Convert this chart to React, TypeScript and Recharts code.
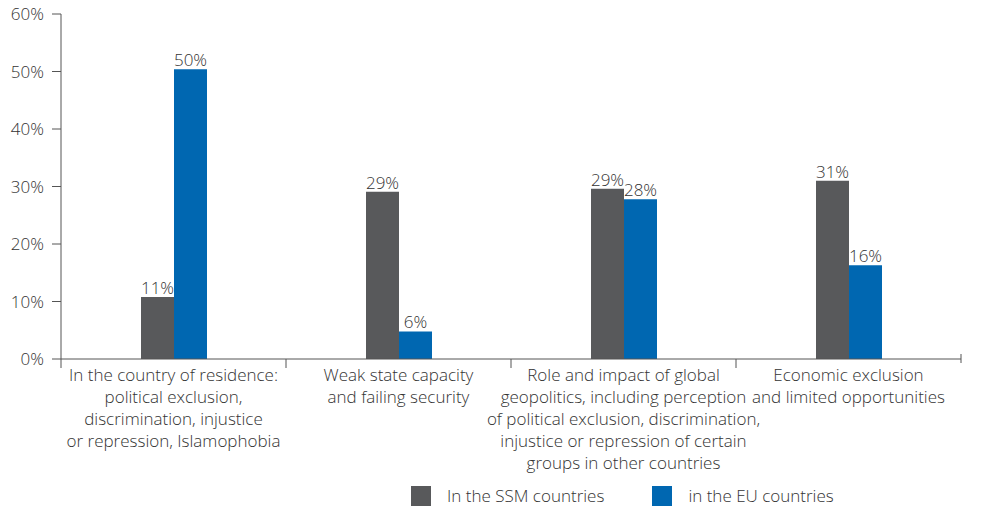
import { BarChart, Bar, XAxis, YAxis, LabelList } from 'recharts';

const categories = [
  'In the country of residence:\npolitical exclusion,\ndiscrimination, injustice\nor repression, Islamophobia',
  'Weak state capacity\nand failing security',
  'Role and impact of global\ngeopolitics, including perception\nof political exclusion, discrimination,\ninjustice or repression of certain\ngroups in other countries',
  'Economic exclusion\nand limited opportunities',
];
const ssmValues = [10.8, 29.1, 29.6, 31];
const euValues = [50.4, 4.8, 27.8, 16.3];
const ssmLabels = ['11%', '29%', '29%', '31%'];
const euLabels = ['50%', '6%', '28%', '16%'];
const yTicks = [0, 10, 20, 30, 40, 50, 60];
const seriesNames = ['In the SSM countries', 'in the EU countries'];

const GRAY = '#58595b';
const BLUE = '#0067b1';
const AXIS = '#555';
const TEXT = '#333';
const FONT = '"Open Sans", Roboto, sans-serif';
const FS = 17;

const W = 981;
const H = 507;
const margin = { top: 14, right: 20, left: 0, bottom: 0 };
const Y_AXIS_W = 61;
const bandW = (W - Y_AXIS_W - margin.right) / categories.length;

const data = categories.map((name, i) => ({
  name,
  ssm: ssmValues[i],
  eu: euValues[i],
  ssmLabel: ssmLabels[i],
  euLabel: euLabels[i],
}));

// tick marks sit at the category borders, not the centres
function CategoryTick(props: any) {
  const { x, y, payload, index } = props;
  const lines: string[] = String(payload.value).split('\n');
  const left = x - bandW / 2;
  const right = x + bandW / 2;
  const last = index === categories.length - 1;
  return (
    <g>
      <line x1={left} x2={left} y1={y} y2={y + 9} stroke={AXIS} />
      {last && <line x1={right} x2={right} y1={y - 5} y2={y + 4} stroke={AXIS} />}
      <text textAnchor="middle" fill={TEXT} fontSize={FS} fontWeight={300} fontFamily={FONT}>
        {lines.map((l, i) => (
          <tspan key={i} x={x} y={y + 22 + i * 22}>{l}</tspan>
        ))}
      </text>
    </g>
  );
}

function LegendBox() {
  const item = (color: string, label: string, gap: number) => (
    <div style={{ display: 'flex', alignItems: 'center', marginRight: gap, height: 20 }}>
      <span style={{ width: 20, height: 20, background: color, display: 'inline-block', marginRight: 16 }} />
      <span style={{ fontSize: FS, fontWeight: 300, color: TEXT, lineHeight: '20px' }}>{label}</span>
    </div>
  );
  return (
    <div style={{ position: 'absolute', top: 486, left: 411, height: 20, display: 'flex', fontFamily: FONT }}>
      {item(GRAY, seriesNames[0], 48)}
      {item(BLUE, seriesNames[1], 0)}
    </div>
  );
}

export default function App() {
  return (
    <div style={{ position: 'absolute', left: 0, top: 0, width: W, height: H, background: '#fff', fontFamily: FONT }}>
      <BarChart width={W} height={H} data={data} margin={margin} barSize={33} barGap={0}>
        <XAxis
          dataKey="name"
          axisLine={{ stroke: AXIS }}
          tickLine={false}
          tickSize={0}
          tickMargin={0}
          interval={0}
          height={148}
          tick={<CategoryTick />}
        />
        <YAxis
          width={Y_AXIS_W}
          domain={[0, 60]}
          ticks={yTicks}
          tickFormatter={(v: number) => `${v}%`}
          axisLine={{ stroke: AXIS }}
          tickLine={{ stroke: AXIS }}
          tickSize={9}
          tickMargin={8}
          tick={{ fill: TEXT, fontSize: FS, fontWeight: 300, fontFamily: FONT }}
        />
        <Bar dataKey="ssm" name={seriesNames[0]} fill={GRAY} isAnimationActive={false}>
          <LabelList dataKey="ssmLabel" position="top" offset={3} fill={TEXT} fontSize={FS} fontWeight={300} fontFamily={FONT} />
        </Bar>
        <Bar dataKey="eu" name={seriesNames[1]} fill={BLUE} isAnimationActive={false}>
          <LabelList dataKey="euLabel" position="top" offset={3} fill={TEXT} fontSize={FS} fontWeight={300} fontFamily={FONT} />
        </Bar>
      </BarChart>
      <LegendBox />
    </div>
  );
}
